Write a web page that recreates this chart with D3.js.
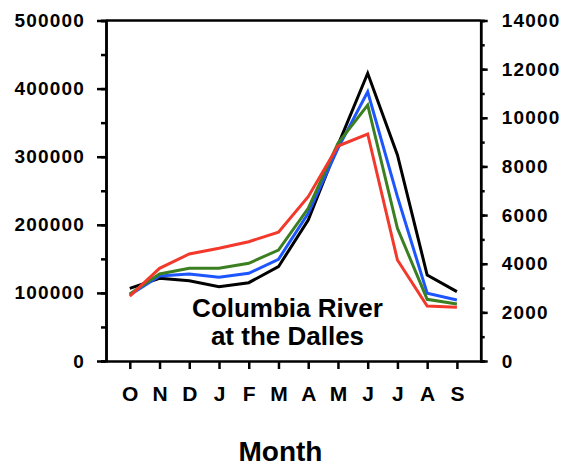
<!DOCTYPE html>
<html>
<head>
<meta charset="utf-8">
<script src="https://cdn.jsdelivr.net/npm/d3@7"></script>
<style>
body{margin:0;background:#fff;}
text{font-family:"Liberation Sans",Arial,sans-serif;font-weight:bold;fill:#000;}
</style>
</head>
<body>
<div id="wrapper"></div>
<script>
// Data
const months = ['O','N','D','J','F','M','A','M','J','J','A','S'];
const blackSeries = [106700,121400,117900,109100,115000,138500,207000,317000,422500,302500,126300,101800];
const blueSeries  = [96900,124800,127800,122900,128800,149300,216900,312300,395400,241300,99400,89600];
const greenSeries = [98400,127800,136100,136100,143500,163000,224200,319700,375900,194900,90600,83700];
const redSeries   = [95400,136100,157100,165500,175200,189000,241300,315700,333300,148300,80800,78800];
const leftTicks = [0,100000,200000,300000,400000,500000];
const rightTicks = [0,2000,4000,6000,8000,10000,12000,14000];
const titleLines = ['Columbia River','at the Dalles'];

const seriesList = [
  {values:blackSeries,color:'#000000'},
  {values:blueSeries,color:'#1d56ff'},
  {values:greenSeries,color:'#3b7f21'},
  {values:redSeries,color:'#f2392c'}
];

// Dimensions
const dimensions = {width:565,height:468,margins:{top:20.5,bottom:107,left:106,right:84.3}};
dimensions.boundedWidth = dimensions.width-dimensions.margins.left-dimensions.margins.right;
dimensions.boundedHeight = dimensions.height-dimensions.margins.top-dimensions.margins.bottom;

const svg = d3.select('#wrapper').append('svg')
  .attr('width',dimensions.width).attr('height',dimensions.height);
const bounds = svg.append('g')
  .attr('transform',`translate(${dimensions.margins.left},${dimensions.margins.top})`);

// Scales
const xScale = d3.scalePoint().domain(d3.range(months.length))
  .range([0,dimensions.boundedWidth]).padding(0.8);
const yScale = d3.scaleLinear().domain([0,500000]).range([dimensions.boundedHeight,0]);
const yRight = d3.scaleLinear().domain([0,14000]).range([dimensions.boundedHeight,0]);

// Lines
const lineGen = d3.line().x((d,i)=>xScale(i)).y(d=>yScale(d));
bounds.selectAll('path.series').data(seriesList).enter().append('path')
  .attr('class','series')
  .attr('d',d=>lineGen(d.values))
  .attr('fill','none').attr('stroke',d=>d.color)
  .attr('stroke-width',3).attr('stroke-linejoin','miter');

// Axes
const styleAxis = g=>{
  g.selectAll('path,line').attr('stroke','#000').attr('stroke-width',2.5);
  g.selectAll('text').attr('fill','#000').attr('font-family','"Liberation Sans",Arial,sans-serif').attr('font-weight','bold');
};

// left minor ticks
bounds.append('g').call(d3.axisLeft(yScale).tickValues(d3.range(0,500001,50000)).tickSize(5).tickFormat(''))
  .call(styleAxis);
const yAxisLeft = bounds.append('g')
  .call(d3.axisLeft(yScale).tickValues(leftTicks).tickSize(9).tickSizeOuter(0).tickPadding(12).tickFormat(d3.format('d')))
  .call(styleAxis);
yAxisLeft.selectAll('text').attr('font-size',19).attr('letter-spacing','1.2px');

// right axis
const rightG = bounds.append('g').attr('transform',`translate(${dimensions.boundedWidth},0)`);
rightG.append('g').call(d3.axisRight(yRight).tickValues(d3.range(0,14001,1000)).tickSize(4).tickFormat(''))
  .call(styleAxis);
const yAxisRight = rightG.append('g')
  .call(d3.axisRight(yRight).tickValues(rightTicks).tickSize(7).tickSizeOuter(0).tickPadding(14).tickFormat(d3.format('d')))
  .call(styleAxis);
yAxisRight.selectAll('text').attr('font-size',19).attr('letter-spacing','1.2px');

// bottom axis
const xAxis = bounds.append('g').attr('transform',`translate(0,${dimensions.boundedHeight})`)
  .call(d3.axisBottom(xScale).tickSize(8).tickSizeOuter(0).tickPadding(17).tickFormat(i=>months[i]))
  .call(styleAxis);
xAxis.selectAll('text').attr('font-size',21);

// top border
bounds.append('line')
  .attr('x1',0).attr('x2',dimensions.boundedWidth).attr('y1',0).attr('y2',0)
  .attr('stroke','#000').attr('stroke-width',2.5);

// Title inside the plot
bounds.append('text')
  .attr('text-anchor','middle').attr('font-size',26)
  .selectAll('tspan').data(titleLines).enter().append('tspan')
  .attr('x',xScale(5)+9).attr('y',(d,i)=>yScale(65000)+i*28.3)
  .text(d=>d);

// X axis label
svg.append('text')
  .attr('x',280.5).attr('y',461).attr('text-anchor','middle')
  .attr('font-size',28).text('Month');
</script>
</body>
</html>
